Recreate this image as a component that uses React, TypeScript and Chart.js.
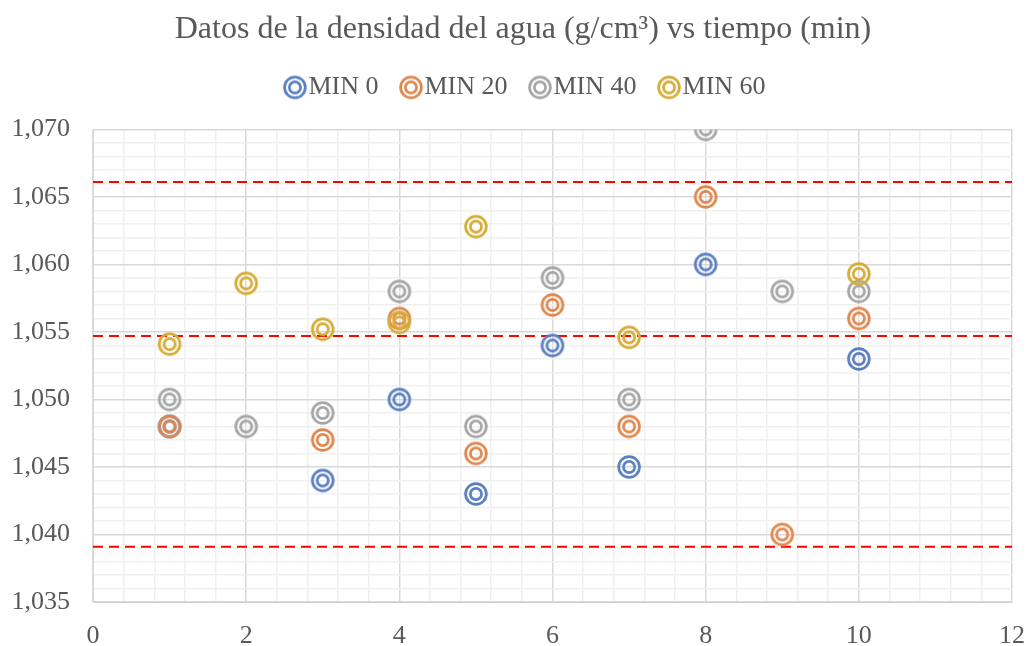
import React, { useEffect, useRef } from "react";
import { Chart, registerables } from "chart.js";

Chart.register(...registerables);

const seriesLabels = ["MIN 0", "MIN 20", "MIN 40", "MIN 60"];
const seriesColors = ["#5B7FC1", "#E0874D", "#A6A6A6", "#D6AC35"];

const min0X = [1, 3, 4, 5, 6, 7, 8, 10];
const min0Y = [1.048, 1.044, 1.05, 1.043, 1.054, 1.045, 1.06, 1.053];

const min20X = [1, 3, 4, 5, 6, 7, 8, 9, 10];
const min20Y = [1.048, 1.047, 1.056, 1.046, 1.057, 1.048, 1.065, 1.04, 1.056];

const min40X = [1, 2, 3, 4, 5, 6, 7, 8, 9, 10];
const min40Y = [1.05, 1.048, 1.049, 1.058, 1.048, 1.059, 1.05, 1.07, 1.058, 1.058];

const min60X = [1, 2, 3, 4, 5, 7, 10];
const min60Y = [1.0541, 1.0586, 1.0552, 1.0557, 1.0628, 1.0546, 1.0593];

const refLevels = [1.0661, 1.0547, 1.0391];
const refX = [0, 12];

const xMin = 0, xMax = 12, xMinorStep = 0.4, xMajorStep = 2;
const yMin = 1.035, yMax = 1.07, yMinorStep = 0.001, yMajorStep = 0.005;

function makeMarker(color: string): HTMLCanvasElement {
  const c = document.createElement("canvas");
  c.width = 26;
  c.height = 26;
  const ctx = c.getContext("2d")!;
  ctx.strokeStyle = color;
  ctx.lineWidth = 2.7;
  ctx.beginPath();
  ctx.arc(13, 13, 10.4, 0, Math.PI * 2);
  ctx.stroke();
  ctx.beginPath();
  ctx.arc(13, 13, 5.6, 0, Math.PI * 2);
  ctx.stroke();
  return c;
}

const isMultiple = (v: number, step: number) =>
  Math.abs(v / step - Math.round(v / step)) < 1e-6;

const legendSpacer = {
  id: "legendSpacer",
  beforeInit(chart: any) {
    const legend = chart.legend;
    if (!legend) return;
    const orig = legend.fit;
    legend.fit = function () {
      orig.call(this);
      this.height += 19;
    };
  },
  afterLayout(chart: any) {
    const t = chart.titleBlock;
    if (t) {
      t.left += 17;
      t.right += 17;
    }
    const l = chart.legend;
    if (l) {
      l.left += 24;
      l.right += 24;
    }
  },
};

export default function App() {
  const ref = useRef<HTMLCanvasElement>(null);
  useEffect(() => {
    const xs = [min0X, min20X, min40X, min60X];
    const ys = [min0Y, min20Y, min40Y, min60Y];
    const datasets: any[] = seriesLabels.map((label, i) => ({
      label,
      data: xs[i].map((x, j) => ({ x, y: ys[i][j] })),
      pointStyle: makeMarker(seriesColors[i]),
      borderColor: seriesColors[i],
      backgroundColor: seriesColors[i],
      showLine: false,
      order: 4 - i,
    }));
    refLevels.forEach((lvl, k) => {
      datasets.push({
        label: "line" + k,
        data: refX.map((x) => ({ x, y: lvl })),
        showLine: true,
        borderColor: "#FF0000",
        borderWidth: 2,
        borderDash: [10, 6],
        pointRadius: 0,
        order: 10,
      });
    });
    const font = "'Liberation Serif', 'Times New Roman', serif";
    const chart = new Chart(ref.current!, {
      type: "scatter",
      data: { datasets },
      plugins: [legendSpacer],
      options: {
        animation: false,
        responsive: false,
        maintainAspectRatio: false,
        layout: { padding: { left: 0, right: 16, top: 6, bottom: 0 } },
        plugins: {
          tooltip: { enabled: false },
          title: {
            display: true,
            text: "Datos de la densidad del agua (g/cm³) vs tiempo (min)",
            color: "#595959",
            font: { family: font, size: 32, weight: "normal", lineHeight: 1.2 },
            padding: { top: 4, bottom: -6 },
          },
          legend: {
            position: "top",
            labels: {
              usePointStyle: true,
              boxWidth: 1,
              boxHeight: 26,
              color: "#595959",
              font: { family: font, size: 26 },
              padding: 32,
              sort: (a: any, b: any) => a.datasetIndex - b.datasetIndex,
              filter: (item: any) => !String(item.text).startsWith("line"),
            },
          },
        },
        scales: {
          x: {
            type: "linear",
            min: xMin,
            max: xMax,
            border: { color: "#D0D0D0", width: 1 },
            grid: {
              color: (ctx: any) =>
                isMultiple(ctx.tick.value, xMajorStep) ? "#D9D9D9" : "#F0F0F0",
              lineWidth: 1.5,
              drawTicks: false,
            },
            ticks: {
              stepSize: xMinorStep,
              autoSkip: false,
              maxRotation: 0,
              padding: 21,
              color: "#595959",
              font: { family: font, size: 26, lineHeight: 1 },
              callback: (v: any) => (isMultiple(Number(v), xMajorStep) ? String(Math.round(Number(v))) : ""),
            },
            afterFit: (scale: any) => {
              scale.height = 44;
              scale.paddingLeft = 0;
              scale.paddingRight = 0;
            },
          },
          y: {
            type: "linear",
            min: yMin,
            max: yMax,
            border: { color: "#D9D9D9", width: 1 },
            grid: {
              color: (ctx: any) =>
                isMultiple(ctx.tick.value, yMajorStep) ? "#D9D9D9" : "#F0F0F0",
              lineWidth: 1.5,
              drawTicks: false,
            },
            ticks: {
              stepSize: yMinorStep,
              autoSkip: false,
              padding: 23,
              color: "#595959",
              font: { family: font, size: 26 },
              callback: (v: any) =>
                isMultiple(Number(v), yMajorStep) ? Number(v).toFixed(3).replace(".", ",") : "",
            },
            afterFit: (scale: any) => {
              scale.width = 93;
              scale.paddingTop = 0;
              scale.paddingBottom = 0;
            },
          },
        },
      },
    });
    return () => chart.destroy();
  }, []);
  return (
    <div style={{ position: "absolute", left: 0, top: 0, width: 1028, height: 646, background: "#fff" }}>
      <canvas ref={ref} width={1028} height={646} style={{ display: "block" }} />
    </div>
  );
}
